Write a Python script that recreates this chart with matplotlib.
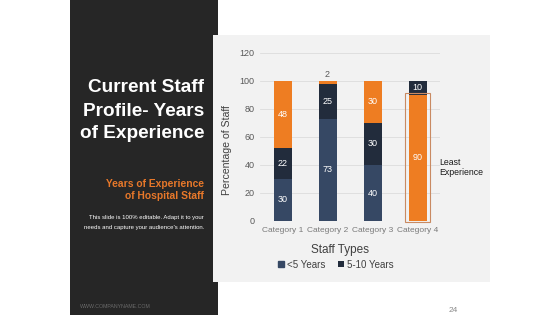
import numpy as np
import matplotlib.pyplot as plt
from matplotlib.patches import Rectangle

plt.rcParams['font.family'] = ['Liberation Sans', 'DejaVu Sans']

# datos de la grafica
categorias = ['Category 1', 'Category 2', 'Category 3', 'Category 4']
menos_5 = [30, 73, 40, 90]
de_5_a_10 = [22, 25, 30, 10]
mas_10 = [48, 2, 30, 0]
y_ticks = [0, 20, 40, 60, 80, 100, 120]

c_azul = '#364864'
c_oscuro = '#222c3c'
c_naranja = '#ee7d22'

fig = plt.figure(figsize=(5.6, 3.15), dpi=100)
fig.patch.set_facecolor('white')

# paneles de fondo (debajo de los ejes)
fig.patches.append(Rectangle((70/560, 0), 148/560, 1, transform=fig.transFigure,
                             facecolor='#262626', edgecolor='none', zorder=-2))
fig.patches.append(Rectangle((213/560, 33/315), 277/560, 247/315, transform=fig.transFigure,
                             facecolor='#f2f2f2', edgecolor='none', zorder=-1))

ax = fig.add_axes([260/560, 94/315, 180/560, 168/315])
ax.set_facecolor('none')
x = np.arange(len(categorias))
ancho = 0.4

col1 = [c_azul, c_azul, c_azul, c_naranja]  # categoria 4 resaltada
b1 = ax.bar(x, menos_5, ancho, color=col1, zorder=3)
b2 = ax.bar(x, de_5_a_10, ancho, bottom=menos_5, color=c_oscuro, zorder=3)
base3 = np.array(menos_5) + np.array(de_5_a_10)
b3 = ax.bar(x, mas_10, ancho, bottom=base3, color=c_naranja, zorder=3)

# etiquetas de valores
for serie, base in [(menos_5, np.zeros(4)), (de_5_a_10, np.array(menos_5)), (mas_10, base3)]:
    for i, v in enumerate(serie):
        if v == 0:
            continue
        if v < 5:
            ax.text(x[i], base[i] + v + 1.5, str(v), ha='center', va='bottom',
                    fontsize=6.5, color='#595959')
        else:
            ax.text(x[i], base[i] + v / 2, str(v), ha='center', va='center',
                    fontsize=6.5, color='white', zorder=4)

# recuadro de la categoria 4
ax.add_patch(Rectangle((3 - 0.28, -0.6), 0.56, 92, facecolor='none',
                       edgecolor='#c98a62', linewidth=0.8, clip_on=False, zorder=5))
ax.text(3.49, 38.5, 'Least\nExperience', ha='left', va='center', fontsize=6.3,
        color='#1a1a1a', linespacing=1.15)

ax.set_xlim(-0.5, 3.5)
ax.set_ylim(0, 120)
ax.set_yticks(y_ticks)
ax.set_xticks(x)
ax.set_xticklabels(categorias)
ax.tick_params(axis='y', length=0, pad=4, labelsize=6.5, labelcolor='#595959')
ax.tick_params(axis='x', length=0, pad=4, labelsize=6, labelcolor='#7a7a7a')
ax.grid(axis='y', color='#dcdcdc', linewidth=0.6, zorder=0)
for s in ax.spines.values():
    s.set_visible(False)

ax.set_ylabel('Percentage of Staff', fontsize=7.6, color='#404040')
ax.yaxis.set_label_coords(-0.155, 0.42)
ax.set_xlabel('Staff Types', fontsize=8.5, color='#404040')
ax.xaxis.set_label_coords(0.444, -0.134)

leg = ax.legend([b1[0], b2[0]], ['<5 Years', '5-10 Years'], loc='center',
                bbox_to_anchor=(0.42, -0.26), ncol=2, frameon=False, fontsize=7,
                handlelength=0.6, handleheight=0.6, handletextpad=0.3,
                columnspacing=1.3, labelcolor='#404040')
leg.legend_handles[0].set_color(c_azul)

# textos del panel izquierdo
for yy, t in zip([87, 111, 133], ['Current Staff', 'Profile- Years', 'of Experience']):
    fig.text(204/560, 1 - yy/315, t, ha='right', va='center', fontsize=13.7,
             fontweight='bold', color='white')
for yy, t in zip([184, 196], ['Years of Experience', 'of Hospital Staff']):
    fig.text(204/560, 1 - yy/315, t, ha='right', va='center', fontsize=7.4,
             fontweight='bold', color='#e8782a')
for yy, t in zip([217, 227], ['This slide is 100% editable. Adapt it to your',
                              "needs and capture your audience's attention."]):
    fig.text(204/560, 1 - yy/315, t, ha='right', va='center', fontsize=4.3,
             color='white')
fig.text(80/560, 1 - 307/315, 'WWW.COMPANYNAME.COM', ha='left', va='center',
         fontsize=3.8, color='#6a6a6a')
fig.text(453/560, 1 - 310/315, '24', ha='center', va='center', fontsize=6,
         color='#8a8a8a')

fig.savefig('out.png', dpi=100)
